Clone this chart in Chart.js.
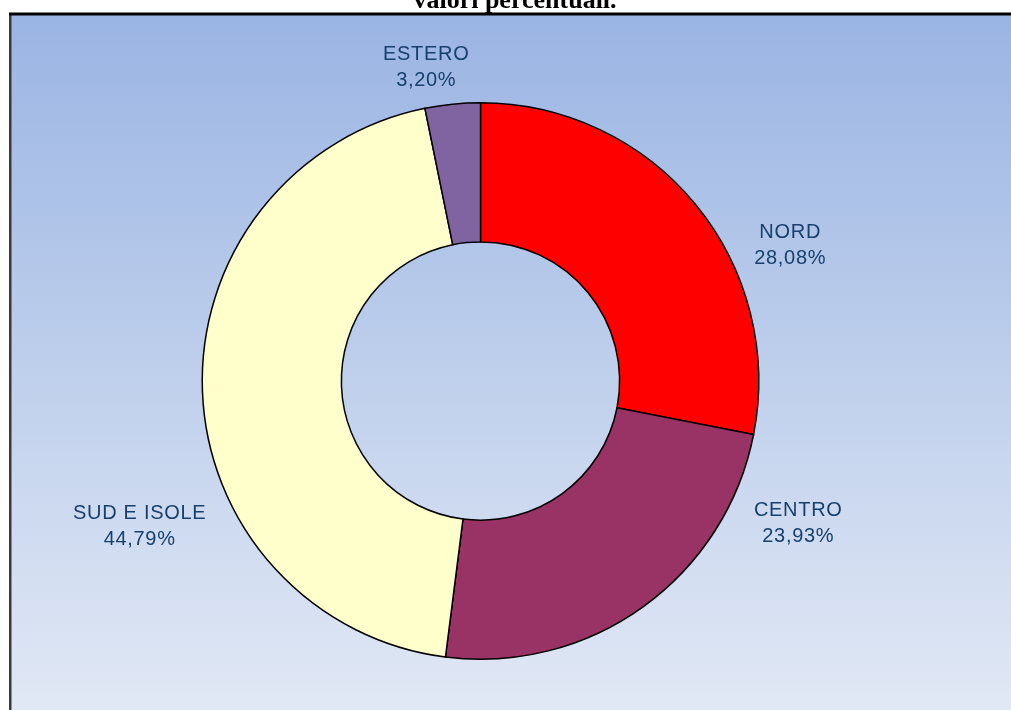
<!DOCTYPE html>
<html>
<head>
<meta charset="utf-8">
<script src="https://cdn.jsdelivr.net/npm/chart.js@4/dist/chart.umd.min.js"></script>
<style>
html,body{margin:0;padding:0;background:#fff;}
#wrap{width:1011px;height:710px;}
</style>
</head>
<body>
<div id="wrap"><canvas id="c" width="1011" height="710"></canvas></div>
<script>
const categories = ['NORD', 'CENTRO', 'SUD E ISOLE', 'ESTERO'];
const values = [28.08, 23.93, 44.79, 3.20];
const valueLabels = ['28,08%', '23,93%', '44,79%', '3,20%'];
const sliceColors = ['#FF0000', '#993366', '#FFFFCC', '#8064A2'];
const titleText = 'valori percentuali.';

// label anchor offsets from donut centre, in units of the outer radius
const labelOffsets = [[1.113, -0.488], [1.142, 0.512], [-1.225, 0.523], [-0.195, -1.126]];

const bgPlugin = {
  id: 'bgPlugin',
  beforeDraw(chart) {
    const ctx = chart.ctx;
    const W = chart.width, H = chart.height;
    ctx.save();
    ctx.fillStyle = '#ffffff';
    ctx.fillRect(0, 0, W, H);
    const g = ctx.createLinearGradient(0, 15, 0, H);
    g.addColorStop(0, '#9AB4E3');
    g.addColorStop(0.5, '#BECFEC');
    g.addColorStop(1, '#E1E8F5');
    ctx.fillStyle = g;
    ctx.fillRect(11, 15, W - 11, H - 15);
    ctx.fillStyle = '#3a3a3a';
    ctx.fillRect(9, 13, 2.5, H - 13);
    ctx.fillStyle = '#000000';
    ctx.fillRect(9, 12.5, W - 9, 3);
    // clipped title
    ctx.fillStyle = '#000000';
    ctx.font = 'bold 26px "Liberation Serif", "Times New Roman", serif';
    ctx.textAlign = 'center';
    ctx.textBaseline = 'alphabetic';
    ctx.fillText(titleText, 515, 8);
    ctx.restore();
  }
};

const labelPlugin = {
  id: 'labelPlugin',
  afterDatasetsDraw(chart) {
    const meta = chart.getDatasetMeta(0);
    const ctx = chart.ctx;
    ctx.save();
    ctx.fillStyle = '#17406D';
    ctx.font = '20px "Liberation Sans", Arial, sans-serif';
    try { ctx.letterSpacing = '0.7px'; } catch (e) {}
    ctx.textAlign = 'center';
    ctx.textBaseline = 'middle';
    meta.data.forEach((arc, i) => {
      const R = arc.outerRadius;
      const cx = arc.x + labelOffsets[i][0] * R;
      const cy = arc.y + labelOffsets[i][1] * R;
      ctx.fillText(categories[i], cx, cy - 13);
      ctx.fillText(valueLabels[i], cx, cy + 13);
    });
    ctx.restore();
  }
};

new Chart(document.getElementById('c'), {
  type: 'doughnut',
  data: {
    labels: categories,
    datasets: [{
      data: values,
      backgroundColor: sliceColors,
      borderColor: '#000000',
      borderWidth: 1.5,
      hoverOffset: 0,
      borderJoinStyle: 'miter'
    }]
  },
  options: {
    responsive: false,
    animation: false,
    cutout: '50%',
    layout: { padding: { left: 200, right: 250, top: 102, bottom: 50 } },
    plugins: {
      legend: { display: false },
      tooltip: { enabled: false },
      title: { display: false }
    }
  },
  plugins: [bgPlugin, labelPlugin]
});
</script>
</body>
</html>
